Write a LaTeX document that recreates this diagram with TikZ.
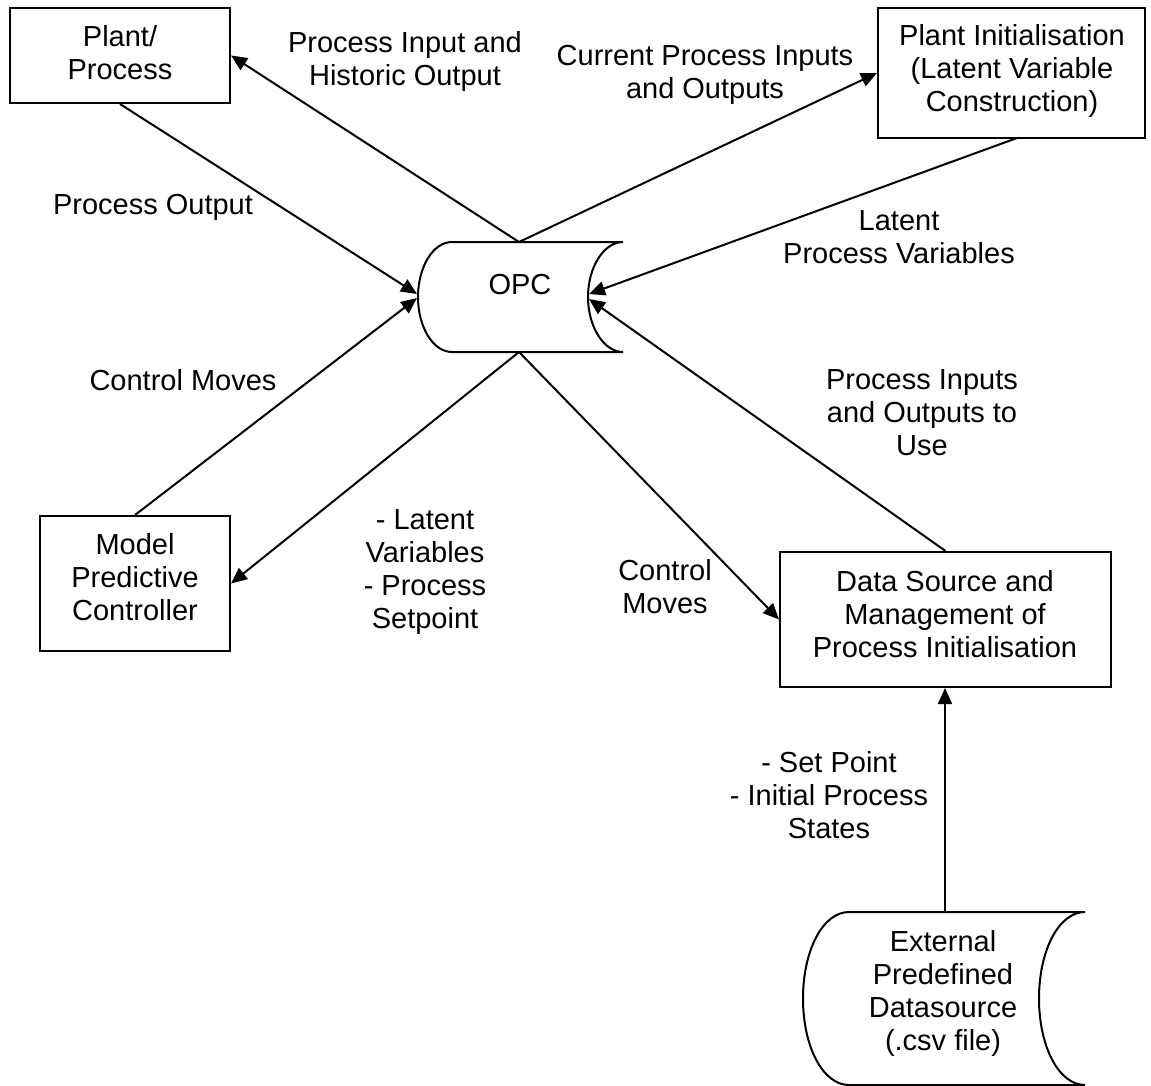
\documentclass[tikz,border=0pt]{standalone}
\usepackage{fontspec}
\setmainfont{Liberation Sans}
\usetikzlibrary{arrows.meta}
\tikzset{
  box/.style={draw, line width=2pt, minimum width=#1, inner sep=0pt},
  txt/.style={align=center, inner sep=0pt, font=\fontsize{29}{33}\selectfont},
  conn/.style={line width=2pt, -{Triangle[length=16pt,width=14pt]}},
  shapeline/.style={line width=2pt}
}
\begin{document}
\begin{tikzpicture}[x=1pt,y=-1pt]
\useasboundingbox (0,0) rectangle (1151,1086);
% boxes
\node[box=220pt, minimum height=95pt] (pp) at (120,55.5) {};
\node[box=267pt, minimum height=130pt] (pi) at (1011.5,73) {};
\node[box=190pt, minimum height=135pt] (mpc) at (135,583.5) {};
\node[box=331pt, minimum height=135pt] (ds) at (945.5,619.5) {};
% box texts
\node[txt] (ppt) at (120,53) {Plant/\\Process};
\node[txt] (pit) at (1012,71) {Plant Initialisation\\(Latent Variable\\Construction)};
\node[txt] (mpct) at (135,577) {Model\\Predictive\\Controller};
\node[txt] (dst) at (945,614) {Data Source and\\Management of\\Process Initialisation};
% OPC stored-data shape
\node[minimum width=205pt, minimum height=110pt, inner sep=0pt] (opc) at (520,297) {};
\draw[shapeline] (452,242) -- (623,242)
  .. controls (604,242) and (588,267) .. (588,297)
  .. controls (588,327) and (604,352) .. (623,352)
  -- (452,352)
  .. controls (433,352) and (418,327) .. (418,297)
  .. controls (418,267) and (433,242) .. cycle;
\node[txt] (opct) at (520,285) {OPC};
% external datasource shape
\node[minimum width=282pt, minimum height=173pt, inner sep=0pt] (ext) at (944,998.5) {};
\draw[shapeline] (849,912) -- (1085,912)
  .. controls (1059,912) and (1039,950) .. (1039,998.5)
  .. controls (1039,1047) and (1059,1085) .. (1085,1085)
  -- (849,1085)
  .. controls (823,1085) and (803,1047) .. (803,998.5)
  .. controls (803,950) and (823,912) .. cycle;
\node[txt] (extt) at (943,993) {External\\Predefined\\Datasource\\(.csv file)};
% connector points
\coordinate (opcT) at (519,242);
\coordinate (opcB) at (519,352);
\coordinate (opcL1) at (417,294);
\coordinate (opcL2) at (417,298);
\coordinate (opcR1) at (589,294);
\coordinate (opcR2) at (589,299);
\coordinate (piB) at (1017,138);
\coordinate (extT) at (945,912);
% connectors
\draw[conn] (opcT) -- (pp.east);
\draw[conn] (opcT) -- (pi.west);
\draw[conn] (pp.south) -- (opcL1);
\draw[conn] (mpc.north) -- (opcL2);
\draw[conn] (opcB) -- (mpc.east);
\draw[conn] (piB) -- (opcR1);
\draw[conn] (ds.north) -- (opcR2);
\draw[conn] (opcB) -- (ds.west);
\draw[conn] (extT) -- (extT |- ds.south);
% labels
\node[txt] (l1) at (405,62) {Process Input and\\Historic Output};
\node[txt] (l2) at (705,75) {Current Process Inputs\\and Outputs};
\node[txt] (l3) at (153,207) {Process Output};
\node[txt] (l4) at (899,237) {Latent\\Process Variables};
\node[txt] (l5) at (183,380) {Control Moves};
\node[txt] (l6) at (922,413) {Process Inputs\\and Outputs to\\Use};
\node[txt] (l7) at (425,572) {- Latent\\Variables\\- Process\\Setpoint};
\node[txt] (l8) at (665,587) {Control\\Moves};
\node[txt] (l9) at (829,795) {- Set Point\\- Initial Process\\States};
\end{tikzpicture}
\end{document}
